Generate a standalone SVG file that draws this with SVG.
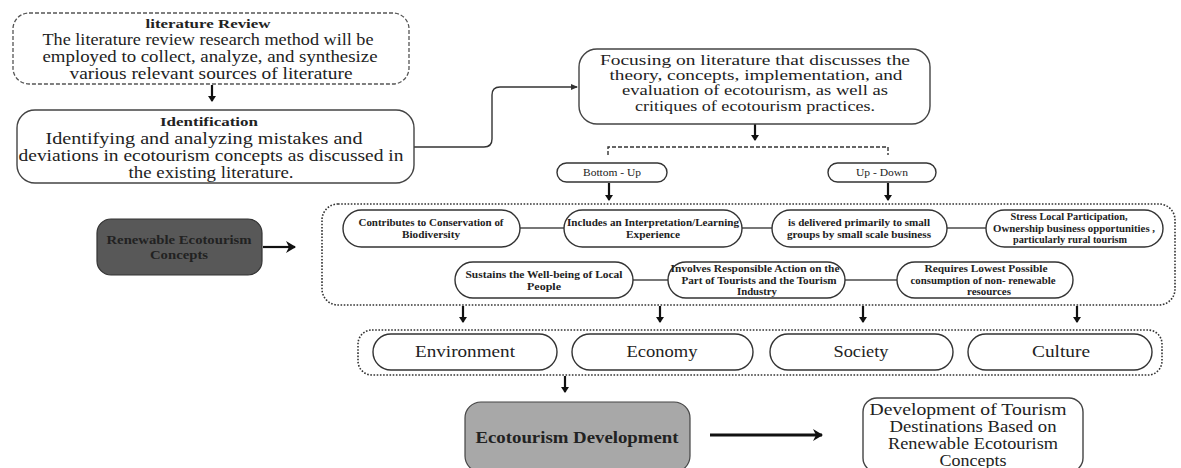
<svg xmlns="http://www.w3.org/2000/svg" width="1181" height="468" viewBox="0 0 1181 468">
<defs>
<marker id="ah" markerWidth="8" markerHeight="8" refX="5" refY="4" orient="auto" markerUnits="userSpaceOnUse">
<path d="M0,0 L6,4 L0,8 Z" fill="#111"/>
</marker>
<marker id="ahl" markerWidth="12" markerHeight="12" refX="9" refY="6" orient="auto" markerUnits="userSpaceOnUse">
<path d="M0,0 L10,6 L0,12 L3,6 Z" fill="#111"/>
</marker>
<marker id="ahs" markerWidth="8" markerHeight="8" refX="6" refY="4" orient="auto" markerUnits="userSpaceOnUse">
<path d="M0,1 L7,4 L0,7 Z" fill="#333"/>
</marker>
</defs>
<style>
text{font-family:"Liberation Serif","Times New Roman",serif;fill:#222;text-anchor:middle;dominant-baseline:central}
.box{fill:#fff;stroke:#444;stroke-width:1.4}
.dash{fill:#fff;stroke:#555;stroke-width:1.3;stroke-dasharray:4 2}
.dot{fill:none;stroke:#333;stroke-width:1.6;stroke-dasharray:1.6 1.6}
.pill{fill:#fff;stroke:#333;stroke-width:1.4}
.body{font-size:17px}
.fb{font-size:15px}
.title{font-size:13px;font-weight:bold}
.sm{font-size:10px;font-weight:bold}
.big{font-size:17px}
.arr{stroke:#111;stroke-width:2.2;fill:none}
.link{stroke:#777;stroke-width:2;fill:none}
</style>

<g id="connectors">
<line class="arr" x1="212" y1="85" x2="212" y2="101" marker-end="url(#ah)"/>
<path d="M414,147 H484 Q492,147 492,139 V95 Q492,87 500,87 H577" stroke="#333" stroke-width="1.4" fill="none" marker-end="url(#ahs)"/>
<line class="arr" x1="755" y1="124" x2="755" y2="140" marker-end="url(#ah)"/>
<path d="M608,155 V147 H888 V155" fill="none" stroke="#333" stroke-width="1.4" stroke-dasharray="4 2"/>
<line class="arr" x1="609" y1="183" x2="609" y2="200" marker-end="url(#ah)"/>
<line class="arr" x1="888" y1="183" x2="888" y2="200" marker-end="url(#ah)"/>
<line class="arr" x1="263" y1="247" x2="295" y2="247" marker-end="url(#ahl)"/>
<line class="link" x1="520" y1="228" x2="564" y2="228"/>
<line class="link" x1="742" y1="228" x2="772" y2="228"/>
<line class="link" x1="947" y1="228" x2="986" y2="228"/>
<line class="link" x1="633" y1="280" x2="668" y2="280"/>
<line class="link" x1="845" y1="280" x2="897" y2="280"/>
<line class="arr" x1="463" y1="306" x2="463" y2="322" marker-end="url(#ah)"/>
<line class="arr" x1="660" y1="306" x2="660" y2="322" marker-end="url(#ah)"/>
<line class="arr" x1="863" y1="306" x2="863" y2="322" marker-end="url(#ah)"/>
<line class="arr" x1="1077" y1="306" x2="1077" y2="322" marker-end="url(#ah)"/>
<line class="arr" x1="565" y1="376" x2="565" y2="392" marker-end="url(#ah)"/>
<line x1="710" y1="435" x2="822" y2="435" stroke="#111" stroke-width="3" marker-end="url(#ahl)"/>
</g>

<g id="literature-review">
<rect class="dash" x="13" y="13" width="396" height="71" rx="16"/>
<text class="title" x="208" y="23" textLength="125" lengthAdjust="spacingAndGlyphs">literature Review</text>
<text class="body" x="208" y="39" textLength="331" lengthAdjust="spacingAndGlyphs">The literature review research method will be</text>
<text class="body" x="210" y="56" textLength="335" lengthAdjust="spacingAndGlyphs">employed to collect, analyze, and synthesize</text>
<text class="body" x="211" y="73" textLength="283" lengthAdjust="spacingAndGlyphs">various relevant sources of literature</text>
</g>

<g id="identification">
<rect class="box" x="17" y="110" width="397" height="73" rx="18"/>
<text class="title" x="209" y="121" textLength="98" lengthAdjust="spacingAndGlyphs">Identification</text>
<text class="body" x="204" y="138" textLength="317" lengthAdjust="spacingAndGlyphs">Identifying and analyzing mistakes and</text>
<text class="body" x="211" y="155" textLength="385" lengthAdjust="spacingAndGlyphs">deviations in ecotourism concepts as discussed in</text>
<text class="body" x="211" y="172" textLength="165" lengthAdjust="spacingAndGlyphs">the existing literature.</text>
</g>

<g id="focusing">
<rect class="box" x="579" y="49" width="351" height="75" rx="18"/>
<text class="fb" x="755" y="60" textLength="310" lengthAdjust="spacingAndGlyphs">Focusing on literature that discusses the</text>
<text class="fb" x="756" y="75" textLength="293" lengthAdjust="spacingAndGlyphs">theory, concepts, implementation, and</text>
<text class="fb" x="755" y="90" textLength="266" lengthAdjust="spacingAndGlyphs">evaluation of ecotourism, as well as</text>
<text class="fb" x="755" y="106" textLength="240" lengthAdjust="spacingAndGlyphs">critiques of ecotourism practices.</text>
</g>

<g id="bottom-up">
<rect class="pill" x="557" y="163" width="110" height="19" rx="9.5"/>
<text x="612" y="172.5" font-size="10" fill="#444" textLength="58" lengthAdjust="spacingAndGlyphs">Bottom - Up</text>
</g>
<g id="up-down">
<rect class="pill" x="828" y="163" width="108" height="19" rx="9.5"/>
<text x="882" y="172.5" font-size="10" fill="#444" textLength="52" lengthAdjust="spacingAndGlyphs">Up - Down</text>
</g>

<g id="renewable-concepts">
<rect x="97" y="219" width="165" height="56" rx="14" fill="#585858" stroke="#333" stroke-width="1.2"/>
<text x="179" y="239" font-size="13" font-weight="bold" fill="#111" textLength="145" lengthAdjust="spacingAndGlyphs">Renewable Ecotourism</text>
<text x="179" y="254" font-size="13" font-weight="bold" fill="#111" textLength="58" lengthAdjust="spacingAndGlyphs">Concepts</text>
</g>

<g id="concepts-container">
<rect class="dot" x="322" y="204" width="853" height="101" rx="16"/>
</g>

<g id="c1">
<rect class="pill" x="343" y="210" width="177" height="37" rx="18.5"/>
<text class="sm" x="431" y="222" textLength="145" lengthAdjust="spacingAndGlyphs">Contributes to Conservation of</text>
<text class="sm" x="431" y="234" textLength="58" lengthAdjust="spacingAndGlyphs">Biodiversity</text>
</g>
<g id="c2">
<rect class="pill" x="564" y="210" width="178" height="37" rx="18.5"/>
<text class="sm" x="653" y="222" textLength="172" lengthAdjust="spacingAndGlyphs">Includes an Interpretation/Learning</text>
<text class="sm" x="653" y="234" textLength="54" lengthAdjust="spacingAndGlyphs">Experience</text>
</g>
<g id="c3">
<rect class="pill" x="772" y="210" width="175" height="37" rx="18.5"/>
<text class="sm" x="859" y="222" textLength="142" lengthAdjust="spacingAndGlyphs">is delivered primarily to small</text>
<text class="sm" x="859" y="234" textLength="144" lengthAdjust="spacingAndGlyphs">groups by small scale business</text>
</g>
<g id="c4">
<rect class="pill" x="986" y="210" width="177" height="37" rx="18.5"/>
<text class="sm" x="1069" y="216" textLength="117" lengthAdjust="spacingAndGlyphs">Stress Local Participation,</text>
<text class="sm" x="1074" y="228" textLength="162" lengthAdjust="spacingAndGlyphs">Ownership business opportunities ,</text>
<text class="sm" x="1070" y="239" textLength="114" lengthAdjust="spacingAndGlyphs">particularly rural tourism</text>
</g>
<g id="c5">
<rect class="pill" x="455" y="262" width="178" height="36" rx="18"/>
<text class="sm" x="544" y="274" textLength="157" lengthAdjust="spacingAndGlyphs">Sustains the Well-being of Local</text>
<text class="sm" x="544" y="286" textLength="34" lengthAdjust="spacingAndGlyphs">People</text>
</g>
<g id="c6">
<rect class="pill" x="668" y="262" width="177" height="36" rx="18"/>
<text class="sm" x="755" y="268" textLength="169" lengthAdjust="spacingAndGlyphs">Involves Responsible Action on the</text>
<text class="sm" x="759" y="280" textLength="155" lengthAdjust="spacingAndGlyphs">Part of Tourists and the Tourism</text>
<text class="sm" x="757" y="291" textLength="40" lengthAdjust="spacingAndGlyphs">Industry</text>
</g>
<g id="c7">
<rect class="pill" x="897" y="262" width="176" height="36" rx="18"/>
<text class="sm" x="986" y="268" textLength="123" lengthAdjust="spacingAndGlyphs">Requires Lowest Possible</text>
<text class="sm" x="983" y="280" textLength="145" lengthAdjust="spacingAndGlyphs">consumption of non- renewable</text>
<text class="sm" x="989" y="291" textLength="44" lengthAdjust="spacingAndGlyphs">resources</text>
</g>

<g id="pillars-container">
<rect class="dot" x="358" y="330" width="804" height="45" rx="14"/>
</g>
<g id="environment">
<rect class="pill" x="373" y="334" width="184" height="36" rx="18"/>
<text class="big" x="465" y="351" textLength="100" lengthAdjust="spacingAndGlyphs">Environment</text>
</g>
<g id="economy">
<rect class="pill" x="572" y="334" width="181" height="36" rx="18"/>
<text class="big" x="662" y="351" textLength="71" lengthAdjust="spacingAndGlyphs">Economy</text>
</g>
<g id="society">
<rect class="pill" x="770" y="334" width="183" height="36" rx="18"/>
<text class="big" x="861" y="351" textLength="55" lengthAdjust="spacingAndGlyphs">Society</text>
</g>
<g id="culture">
<rect class="pill" x="968" y="334" width="184" height="36" rx="18"/>
<text class="big" x="1061" y="351" textLength="58" lengthAdjust="spacingAndGlyphs">Culture</text>
</g>

<g id="ecotourism-development">
<rect x="465" y="402" width="225" height="70" rx="16" fill="#a8a8a8" stroke="#444" stroke-width="1.2"/>
<text x="577" y="437" font-size="17" font-weight="bold" fill="#111" textLength="203" lengthAdjust="spacingAndGlyphs">Ecotourism Development</text>
</g>

<g id="development-destinations">
<rect class="box" x="863" y="398" width="220" height="74" rx="14"/>
<text class="body" x="968" y="409" textLength="197" lengthAdjust="spacingAndGlyphs">Development of Tourism</text>
<text class="body" x="973" y="426" textLength="167" lengthAdjust="spacingAndGlyphs">Destinations Based on</text>
<text class="body" x="973" y="443" textLength="170" lengthAdjust="spacingAndGlyphs">Renewable Ecotourism</text>
<text class="body" x="973" y="460" textLength="67" lengthAdjust="spacingAndGlyphs">Concepts</text>
</g>
</svg>
